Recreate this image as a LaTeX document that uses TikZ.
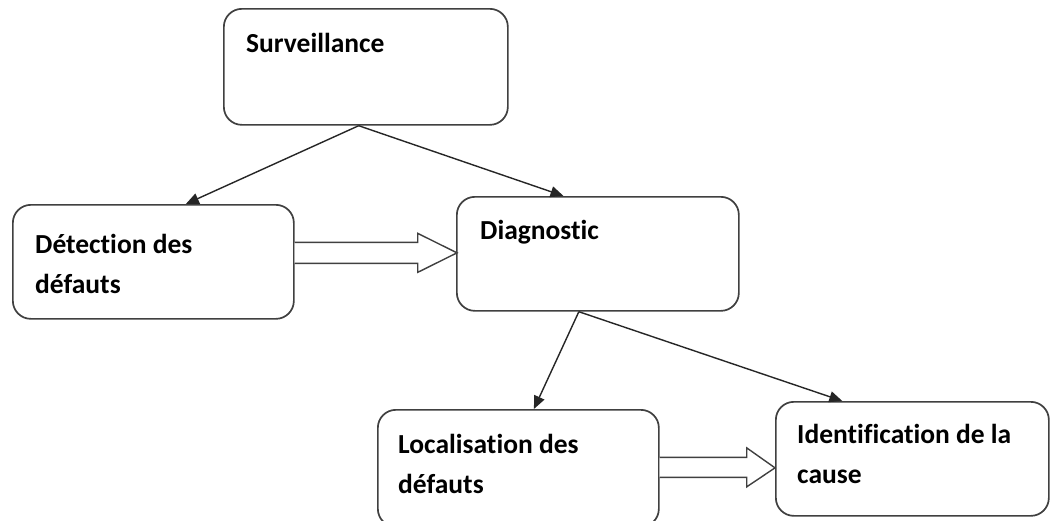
\documentclass[tikz,border=0pt]{standalone}
\usepackage{fontspec}
\setmainfont{Carlito}[Ligatures=NoCommon]
\usetikzlibrary{arrows.meta,calc}
\tikzset{
  box/.style={draw=black!75, line width=1.7pt, rounded corners=18pt, fill=white,
    anchor=north west, inner sep=0pt},
  lbl/.style={anchor=base west, inner sep=0pt, font=\fontsize{27.5}{40}\selectfont\bfseries},
  link/.style={draw=black!85, line width=1.4pt, -{Triangle[length=13pt,width=11pt]}},
  hollow/.style={draw=black!75, line width=1.4pt, fill=white, line join=miter}
}
\begin{document}
\begin{tikzpicture}[x=1pt,y=-1pt]
\useasboundingbox (0,0) rectangle (1050,520);
\fill[white] (0,0) rectangle (1050,520);

% boxes
\node[box, minimum width=284pt, minimum height=116pt] (surv) at (223,8) {};
\node[box, minimum width=281pt, minimum height=114pt] (det) at (12,204) {};
\node[box, minimum width=282pt, minimum height=114pt] (diag) at (456,196) {};
\node[box, minimum width=281pt, minimum height=117pt] (loc) at (377,409) {};
\node[box, minimum width=273pt, minimum height=114pt] (ident) at (775,401) {};

% labels
\node[lbl] (survt) at (246,52) {Surveillance};
\node[lbl] (dett1) at (35,253) {Détection des};
\node[lbl] (dett2) at (35,293) {défauts};
\node[lbl] (diagt) at (480,239) {Diagnostic};
\node[lbl] (loct1) at (398,453) {Localisation des};
\node[lbl] (loct2) at (398,493) {défauts};
\node[lbl] (identt1) at (797,443) {Identification de la};
\node[lbl] (identt2) at (797,483) {cause};

% branching connectors
\coordinate (sb) at ($(surv.south west)!0.475!(surv.south east)$);
\coordinate (db) at ($(diag.south west)!0.433!(diag.south east)$);
\coordinate (dett) at ($(det.north west)!0.615!(det.north east)$);
\coordinate (diagtop) at ($(diag.north west)!0.379!(diag.north east)$);
\coordinate (loctop) at ($(loc.north west)!0.555!(loc.north east)$);
\coordinate (identtop) at ($(ident.north west)!0.245!(ident.north east)$);
\draw[link] (sb) -- (dett);
\draw[link] (sb) -- (diagtop);
\draw[link] (db) -- (loctop);
\draw[link] (db) -- (identtop);

% hollow block arrows
\coordinate (h1) at ($(det.east)+(0,-9)$);
\coordinate (h1t) at ($(diag.west)+(1,-1)$);
\draw[hollow] ($(h1)+(0,-10.5)$) -- ($(h1)+(123,-10.5)$) -- ($(h1)+(123,-19.5)$)
  -- (h1t) -- ($(h1)+(123,19.5)$) -- ($(h1)+(123,10.5)$) -- ($(h1)+(0,10.5)$);
\coordinate (h2) at ($(loc.east)+(0,-1)$);
\coordinate (h2t) at ($(ident.west)+(0,9)$);
\draw[hollow] ($(h2)+(0,-10)$) -- ($(h2)+(87,-10)$) -- ($(h2)+(87,-19.5)$)
  -- (h2t) -- ($(h2)+(87,19.5)$) -- ($(h2)+(87,10)$) -- ($(h2)+(0,10)$);
\end{tikzpicture}
\end{document}
